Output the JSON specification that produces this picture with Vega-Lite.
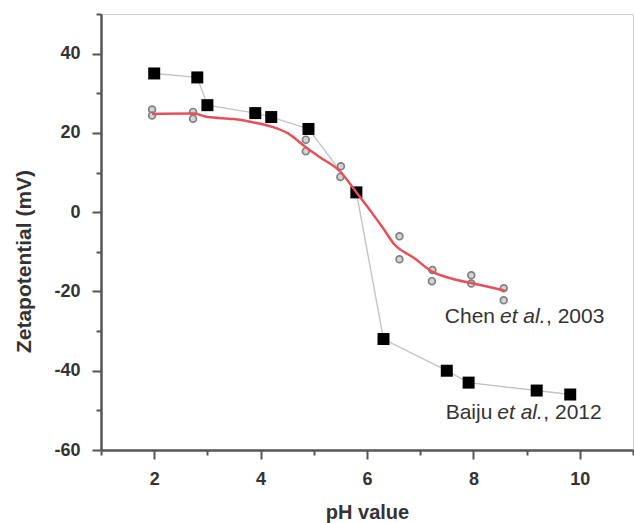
{
  "$schema": "https://vega.github.io/schema/vega-lite/v6.json",
  "width": 532,
  "height": 436,
  "autosize": {"type": "none"},
  "padding": {"left": 101, "top": 14, "right": 1, "bottom": 73},
  "background": "white",
  "config": {
    "view": {"stroke": "#cfcfcf", "strokeWidth": 1},
    "font": "Liberation Sans",
    "axis": {
      "grid": false,
      "domainColor": "#555",
      "domainWidth": 2.5,
      "tickColor": "#555",
      "tickWidth": 2,
      "labelFont": "Liberation Sans",
      "labelFontWeight": "bold",
      "labelFontSize": 18,
      "labelColor": "#333",
      "labelFlush": false,
      "labelOverlap": false,
      "titleFont": "Liberation Sans",
      "titleFontWeight": "bold",
      "titleFontSize": 20,
      "titleColor": "#333"
    }
  },
  "datasets": {
    "baiju": [
      {"ph": 2.0, "zeta": 35},
      {"ph": 2.81, "zeta": 34},
      {"ph": 3.0, "zeta": 27},
      {"ph": 3.9, "zeta": 25},
      {"ph": 4.2, "zeta": 24},
      {"ph": 4.9, "zeta": 21},
      {"ph": 5.8, "zeta": 5},
      {"ph": 6.31, "zeta": -32},
      {"ph": 7.5, "zeta": -40},
      {"ph": 7.91, "zeta": -43},
      {"ph": 9.19, "zeta": -45},
      {"ph": 9.82, "zeta": -46}
    ],
    "chen": [
      {"ph": 1.96, "zeta": 25.9},
      {"ph": 1.96, "zeta": 24.4},
      {"ph": 2.73, "zeta": 25.3},
      {"ph": 2.73, "zeta": 23.6},
      {"ph": 4.85, "zeta": 18.3},
      {"ph": 4.85, "zeta": 15.4},
      {"ph": 5.51, "zeta": 11.6},
      {"ph": 5.5, "zeta": 8.9},
      {"ph": 6.61, "zeta": -6.1},
      {"ph": 6.61, "zeta": -11.9},
      {"ph": 7.23, "zeta": -14.6},
      {"ph": 7.22, "zeta": -17.4},
      {"ph": 7.96, "zeta": -15.9},
      {"ph": 7.96, "zeta": -18.0},
      {"ph": 8.57, "zeta": -19.2},
      {"ph": 8.57, "zeta": -22.2}
    ],
    "fit": [
      {"ph": 1.96, "zeta": 24.8},
      {"ph": 2.75, "zeta": 24.9},
      {"ph": 3.0, "zeta": 24.0},
      {"ph": 3.5, "zeta": 23.5},
      {"ph": 3.85, "zeta": 22.7},
      {"ph": 4.2, "zeta": 21.6},
      {"ph": 4.5, "zeta": 20.0},
      {"ph": 4.85, "zeta": 16.4},
      {"ph": 5.1, "zeta": 14.0},
      {"ph": 5.5, "zeta": 10.2},
      {"ph": 5.8, "zeta": 5.0},
      {"ph": 6.1, "zeta": -0.3},
      {"ph": 6.3, "zeta": -4.0},
      {"ph": 6.5, "zeta": -7.9},
      {"ph": 6.9, "zeta": -11.7},
      {"ph": 7.2, "zeta": -14.8},
      {"ph": 7.6, "zeta": -16.8},
      {"ph": 8.0, "zeta": -18.0},
      {"ph": 8.6, "zeta": -19.8}
    ],
    "notes": [
      {"ph": 8.5, "zeta": -26.4, "a": "Chen", "b": "et al.", "c": ", 2003"},
      {"ph": 8.45, "zeta": -50.6, "a": "Baiju", "b": "et al.", "c": ", 2012"}
    ]
  },
  "encoding": {
    "x": {
      "field": "ph",
      "type": "quantitative",
      "scale": {"domain": [1, 11], "nice": false, "zero": false},
      "axis": {
        "title": "pH value",
        "values": [1, 2, 3, 4, 5, 6, 7, 8, 9, 10, 11],
        "labelExpr": "datum.value % 2 === 0 ? '' + datum.value : ''",
        "tickSize": {"condition": {"test": "datum.value % 2 === 0", "value": 9}, "value": 5},
        "labelPadding": 11,
        "titleY": 62,
        "titleBaseline": "middle"
      }
    },
    "y": {
      "field": "zeta",
      "type": "quantitative",
      "scale": {"domain": [-60, 50], "nice": false, "zero": false},
      "axis": {
        "title": "Zetapotential (mV)",
        "values": [-60, -50, -40, -30, -20, -10, 0, 10, 20, 30, 40, 50],
        "labelExpr": "datum.value % 20 === 0 && datum.value < 50 ? '' + datum.value : ''",
        "tickSize": {"condition": {"test": "datum.value % 20 === 0", "value": 9}, "value": 5},
        "labelPadding": 12,
        "titleFontSize": 21,
        "titleX": -77,
        "titleY": 247,
        "titleAngle": -90,
        "titleAlign": "center",
        "titleBaseline": "middle"
      }
    }
  },
  "layer": [
    {
      "mark": {"type": "rule", "color": "#c8c8c8", "strokeWidth": 1, "strokeDash": [3, 5]},
      "encoding": {"y": {"datum": 0}, "x": null}
    },
    {
      "mark": {"type": "rule", "color": "#6e6e6e", "strokeWidth": 3},
      "encoding": {"y": {"datum": 50}, "x": null}
    },
    {
      "data": {"name": "baiju"},
      "mark": {"type": "line", "color": "#c4c4c4", "strokeWidth": 1.4}
    },
    {
      "data": {"name": "chen"},
      "mark": {"type": "point", "shape": "circle", "size": 46, "filled": false, "stroke": "#808080", "fill": "#d4d4d4", "fillOpacity": 1, "strokeWidth": 1.7}
    },
    {
      "data": {"name": "baiju"},
      "mark": {"type": "point", "shape": "square", "size": 144, "filled": true, "color": "#000", "opacity": 1}
    },
    {
      "data": {"name": "fit"},
      "mark": {"type": "line", "color": "#e6505a", "strokeWidth": 2.5, "interpolate": "monotone"}
    },
    {
      "data": {"name": "notes"},
      "mark": {"type": "text", "align": "right", "baseline": "middle", "fontSize": 21, "color": "#333", "font": "Liberation Sans", "dx": -5},
      "encoding": {"text": {"field": "a"}}
    },
    {
      "data": {"name": "notes"},
      "mark": {"type": "text", "align": "left", "baseline": "middle", "fontSize": 21, "color": "#333", "font": "Liberation Sans", "fontStyle": "italic", "dx": 0},
      "encoding": {"text": {"field": "b"}}
    },
    {
      "data": {"name": "notes"},
      "mark": {"type": "text", "align": "left", "baseline": "middle", "fontSize": 21, "color": "#333", "font": "Liberation Sans", "dx": 46},
      "encoding": {"text": {"field": "c"}}
    }
  ]
}
